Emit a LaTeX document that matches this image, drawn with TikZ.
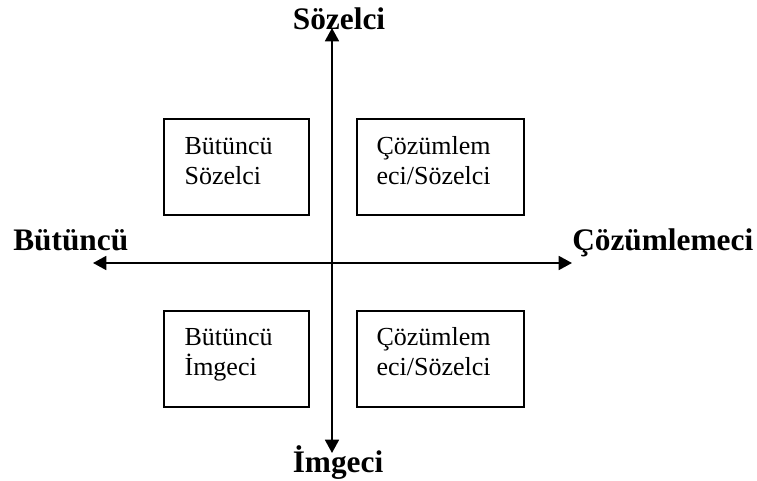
\documentclass[tikz,border=0pt]{standalone}
\usepackage{fontspec}
\setmainfont{Liberation Serif}
\usetikzlibrary{arrows.meta}
\tikzset{
  axis/.style={line width=1.3pt,
    {Triangle[length=10pt,width=10.5pt]}-{Triangle[length=10pt,width=10.5pt]}},
  pole/.style={font=\fontsize{23.5}{28}\selectfont\bfseries, inner sep=0pt},
  quad/.style={draw, line width=1pt, minimum height=72pt, inner sep=0pt},
  quadtext/.style={font=\fontsize{19.5}{22.5}\selectfont, align=left,
    inner sep=0pt, anchor=base west}
}
\begin{document}
\begin{tikzpicture}[x=0.75pt,y=-0.75pt]
  \useasboundingbox (0,0) rectangle (757,481);
  % axis ends
  \coordinate (n) at (332,28);
  \coordinate (s) at (332,453);
  \coordinate (w) at (93,263);
  \coordinate (e) at (572,263);
  \draw[axis] (w) -- (e);
  \draw[axis] (s) -- (n);
  % poles
  \node[pole, anchor=base] (sozel) at (339,30) {Sözelci};
  \node[pole, anchor=base] (imge) at (338,472) {İmgeci};
  \node[pole, anchor=base west] (butun) at (13,251) {Bütüncü};
  \node[pole, anchor=base west] (cozum) at (572,251) {Çözümlemeci};
  % quadrants
  \node[quad, minimum width=108.75pt] (q1) at (236.5,167) {};
  \node[quad, minimum width=125.25pt] (q2) at (440.5,167) {};
  \node[quad, minimum width=108.75pt] (q3) at (236.5,359) {};
  \node[quad, minimum width=125.25pt] (q4) at (440.5,359) {};
  % base anchor sits on the last line
  \node[quadtext] (t1) at ([shift={(21,66)}]q1.north west) {Bütüncü\\Sözelci};
  \node[quadtext] (t2) at ([shift={(20,66)}]q2.north west) {Çözümlem\\eci/Sözelci};
  \node[quadtext] (t3) at ([shift={(21,65)}]q3.north west) {Bütüncü\\İmgeci};
  \node[quadtext] (t4) at ([shift={(20,65)}]q4.north west) {Çözümlem\\eci/Sözelci};
\end{tikzpicture}
\end{document}
